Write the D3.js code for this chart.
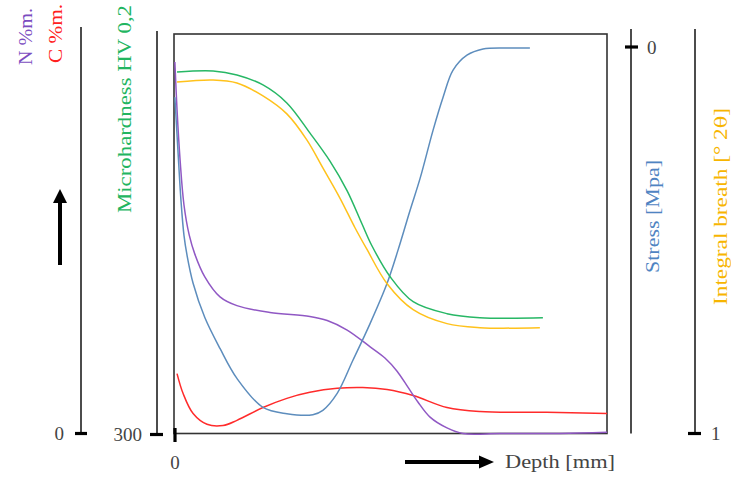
<!DOCTYPE html>
<html>
<head>
<meta charset="utf-8">
<script src="https://cdn.jsdelivr.net/npm/d3@7"></script>
<style>
  body { margin: 0; background: #fff; }
  text { font-family: "Liberation Serif", "DejaVu Serif", serif; }
</style>
</head>
<body>
<svg width="731" height="481"></svg>
<script>
// depth in mm (relative)
let nDepth   = [0.02, 0.07, 0.14, 0.23, 0.35, 0.48, 0.71, 1.06, 1.45, 2.21, 3.13, 3.53, 3.99, 4.52, 4.86, 5.14, 5.39, 5.62, 5.90, 6.29, 6.66, 7.51, 8.89, 9.98]
let nValues  = [0.93, 0.81, 0.685, 0.572, 0.497, 0.449, 0.392, 0.342, 0.32, 0.303, 0.293, 0.283, 0.259, 0.217, 0.189, 0.156, 0.116, 0.079, 0.041, 0.014, 0.0, 0.0, 0.0, 0.003]

let cDepth   = [0.07, 0.21, 0.44, 0.76, 1.13, 1.45, 2.05, 2.60, 3.13, 3.76, 4.35, 4.91, 5.51, 6.29, 7.05, 8.59, 9.98]
let cValues  = [0.15, 0.10, 0.05, 0.023, 0.02, 0.033, 0.065, 0.088, 0.103, 0.113, 0.115, 0.11, 0.095, 0.065, 0.055, 0.053, 0.05]

let hvDepth  = [0.07, 0.90, 1.45, 2.05, 2.60, 3.13, 3.59, 3.99, 4.33, 4.56, 4.98, 5.51, 6.29, 7.05, 8.50]
let hvValues = [662, 663, 659, 649, 631, 601, 573, 543, 510, 488, 457, 432, 420, 416, 416]

let ibDepth  = [0.07, 0.90, 1.45, 2.05, 2.60, 3.06, 3.43, 3.82, 4.17, 4.45, 4.91, 5.51, 6.29, 7.05, 8.43]
let ibValues = [2.76, 2.77, 2.755, 2.69, 2.60, 2.47, 2.33, 2.18, 2.03, 1.92, 1.75, 1.62, 1.55, 1.53, 1.53]

let sDepth   = [0.02, 0.09, 0.16, 0.23, 0.30, 0.44, 0.71, 1.06, 1.45, 2.05, 2.60, 3.20, 3.43, 3.76, 4.12, 4.52, 4.91, 5.16, 5.44, 5.67, 5.97, 6.20, 6.43, 6.75, 7.12, 7.74, 8.20]
let sValues  = [-104, -213, -317, -390, -431, -489, -560, -624, -686, -746, -759, -761, -752, -717, -649, -572, -489, -421, -338, -272, -172, -104, -48, -17, -4, -2, -2]

let zip = (xs, ys) => xs.map((x, i) => ({x: x, y: ys[i]}))

let svg = d3.select('svg')

let yTop = 34, yBottom = 433.5
let x = d3.scaleLinear().domain([0, 10]).range([174, 608])

let yN  = d3.scaleLinear().domain([0, 1]).range([yBottom, yTop])
let yC  = d3.scaleLinear().domain([0, 1]).range([yBottom, yTop])
let yHV = d3.scaleLinear().domain([300, 700]).range([yBottom, yTop])
let yIB = d3.scaleLinear().domain([1, 3]).range([yBottom, yTop])
let yS  = d3.scaleLinear().domain([-800, 0]).range([yBottom, 47])

/* caja */
svg.append('rect')
  .attr('x', x(0)).attr('y', yTop)
  .attr('width', x(10) - x(0) - 1).attr('height', yBottom - yTop)
  .attr('fill', 'none').attr('stroke', '#333').attr('stroke-width', 1.6)

/* curvas */
let series = [
  {data: zip(cDepth, cValues),   y: yC,  color: '#ff2b2b'},
  {data: zip(nDepth, nValues),   y: yN,  color: '#9058c4'},
  {data: zip(sDepth, sValues),   y: yS,  color: '#5d8dbd'},
  {data: zip(ibDepth, ibValues), y: yIB, color: '#ffc21c'},
  {data: zip(hvDepth, hvValues), y: yHV, color: '#27b765'}
]

series.forEach(s => {
  let line = d3.line()
    .x(d => x(d.x))
    .y(d => s.y(d.y))
    .curve(d3.curveCatmullRom.alpha(0.5))
  svg.append('path')
    .attr('d', line(s.data))
    .attr('fill', 'none')
    .attr('stroke', s.color)
    .attr('stroke-width', 1.5)
})

/* ejes verticales */
let ejes = [
  {xpos: 81,  y1: 27, y2: yN(0)},
  {xpos: 157, y1: 31, y2: yHV(300) + 1},
  {xpos: 631, y1: 29, y2: yBottom},
  {xpos: 695, y1: 29, y2: yBottom}
]
ejes.forEach(e => {
  svg.append('line')
    .attr('x1', e.xpos).attr('x2', e.xpos)
    .attr('y1', e.y1).attr('y2', e.y2)
    .attr('stroke', '#111').attr('stroke-width', 1.5)
})

let tick = (x1, x2, y1, y2) => svg.append('line')
  .attr('x1', x1).attr('x2', x2).attr('y1', y1).attr('y2', y2)
  .attr('stroke', '#000').attr('stroke-width', 3.2)

tick(75, 87, yN(0), yN(0))
tick(150, 163, yHV(300) + 1, yHV(300) + 1)
tick(x(0) + 1, x(0) + 1, 428, 442)
tick(625, 638, yS(0), yS(0))
tick(688, 701, yIB(1), yIB(1))

let num = (tx, ty, s, anchor) => svg.append('text')
  .attr('x', tx).attr('y', ty)
  .attr('text-anchor', anchor)
  .attr('dominant-baseline', 'central')
  .attr('font-size', 19).attr('fill', '#444')
  .text(s)

num(64, yN(0), '0', 'end')
num(142, yHV(300) + 1, '300', 'end')
num(x(0) + 1, 462, '0', 'middle')
num(647, yS(0), '0', 'start')
num(711, yIB(1), '1', 'start')

/* titulos verticales */
let vlabel = (bx, ybot, ytop, s, color) => svg.append('text')
  .attr('transform', `translate(${bx},${ybot}) rotate(-90)`)
  .attr('font-size', 19)
  .attr('font-family', 'Liberation Serif')
  .attr('fill', color)
  .attr('textLength', ybot - ytop)
  .attr('lengthAdjust', 'spacingAndGlyphs')
  .text(s)

vlabel(32, 65, 8, 'N %m.', '#7c4cbf')
vlabel(62, 63, 4, 'C %m.', '#ff2020')
vlabel(131, 213, 5, 'Microhardness HV 0,2', '#22b560')
vlabel(659, 273, 160, 'Stress [Mpa]', '#4f84c2')
let ib = vlabel(727, 305, 108, 'Integral breath [° 2', '#f7b500')
ib.append('tspan').attr('font-family', 'DejaVu Serif').attr('font-size', 17).text('θ')
ib.append('tspan').text(']')

/* flechas */
svg.append('line')
  .attr('x1', 60).attr('x2', 60).attr('y1', 265).attr('y2', 200)
  .attr('stroke', '#000').attr('stroke-width', 4)
svg.append('path')
  .attr('d', 'M53,203 L60,189 L67,203 Z')
  .attr('fill', '#000')

svg.append('line')
  .attr('x1', 405).attr('x2', 482).attr('y1', 462).attr('y2', 462)
  .attr('stroke', '#000').attr('stroke-width', 4)
svg.append('path')
  .attr('d', 'M479,455.5 L494,462 L479,468.5 Z')
  .attr('fill', '#000')

svg.append('text')
  .attr('x', 505).attr('y', 468)
  .attr('font-size', 19).attr('fill', '#444')
  .attr('textLength', 110)
  .attr('lengthAdjust', 'spacingAndGlyphs')
  .text('Depth [mm]')
</script>
</body>
</html>
